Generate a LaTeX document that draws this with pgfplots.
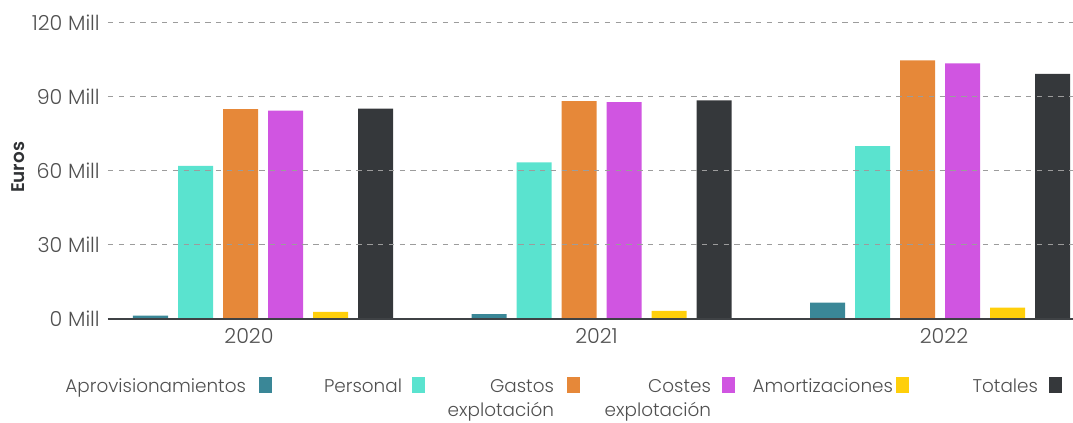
\documentclass[border=0pt]{standalone}
\usepackage{pgfplots}
\pgfplotsset{compat=1.18}
\usepackage{pgfplotstable}
\usepackage{fontspec}
\setmainfont{Poppins Light}[BoldFont={Poppins SemiBold}]
\definecolor{cA}{HTML}{3A8797}
\definecolor{cP}{HTML}{5AE3CF}
\definecolor{cG}{HTML}{E68839}
\definecolor{cC}{HTML}{D055E1}
\definecolor{cM}{HTML}{FFCF0A}
\definecolor{cT}{HTML}{35383B}
\definecolor{txt}{HTML}{505050}
\definecolor{gridc}{HTML}{9C9C9C}
\pgfplotstableread{
x Aprov Personal Gastos Costes Amort Totales
0 1.2 61.9 84.9 84.3 2.8 85.1
1 1.8 63.4 88.2 87.8 3.2 88.5
2 6.5 69.9 104.7 103.5 4.5 99.2
}\datatable
\pgfplotsset{sq legend/.style={legend image code/.code={\path[##1,draw=none] (0pt,0pt) rectangle (9.75pt,12pt);}}}
\newcommand{\lf}{\fontsize{13.8}{17.6}\selectfont}
\newcommand{\tf}{\fontsize{15.5}{18}\selectfont}
\begin{document}
\begin{tikzpicture}
\begin{axis}[
  at={(0,0)}, anchor=south west,
  scale only axis, width=723.75pt, height=222pt,
  ybar=7.5pt, bar width=26.25pt,
  xmin=-0.4579, xmax=2.3929, ymin=0, ymax=120,
  xtick={-0.0414,0.9852,2.0118}, xticklabels={2020,2021,2022},
  ytick={0,30,60,90,120}, yticklabels={0 Mill,30 Mill,60 Mill,90 Mill,120 Mill},
  major tick length=0pt,
  axis on top,
  axis x line*=bottom, axis y line*=left,
  x axis line style={draw=cT!95!white, line width=1.5pt, -},
  y axis line style={draw=none},
  ymajorgrids, grid style={gridc, line width=1.2pt, dash pattern=on 4.1pt off 4pt},
  tick label style={font=\tf, text=txt, inner sep=0pt},
  yticklabel style={anchor=east, xshift=-6pt},
  xticklabel style={anchor=north, yshift=-7.5pt},
  ylabel={\bfseries Euros}, ylabel style={font=\lf, text=cT!90!black, at={(axis description cs:-0.0933,0.511)}, anchor=center, rotate=0},
  legend style={at={(axis description cs:-0.0472,-0.197)}, anchor=north west, draw=none, fill=none, inner sep=0pt, outer sep=0pt, column sep=0pt, font=\lf, text=txt, nodes={inner sep=0pt, anchor=base west}},
  legend cell align=left, legend plot pos=right, legend columns=6,
  clip=false,
]
\addplot[fill=cA, draw=none, sq legend] table[x=x, y=Aprov] {\datatable};
\addlegendentry{\makebox[147.4pt][r]{Aprovisionamientos\rule{9.75pt}{0pt}}}
\addplot[fill=cP, draw=none, sq legend] table[x=x, y=Personal] {\datatable};
\addlegendentry{\makebox[105pt][r]{Personal\rule{7.5pt}{0pt}}}
\addplot[fill=cG, draw=none, sq legend] table[x=x, y=Gastos] {\datatable};
\addlegendentry{\parbox[t]{106.5pt}{\raggedleft Gastos\rule{9.75pt}{0pt}\\explotación\rule{9.75pt}{0pt}}}
\addplot[fill=cC, draw=none, sq legend] table[x=x, y=Costes] {\datatable};
\addlegendentry{\parbox[t]{106.5pt}{\raggedleft Costes\rule{8.25pt}{0pt}\\explotación\rule{8.25pt}{0pt}}}
\addplot[fill=cM, draw=none, sq legend] table[x=x, y=Amort] {\datatable};
\addlegendentry{\makebox[120.75pt][r]{Amortizaciones\rule{2.25pt}{0pt}}}
\addplot[fill=cT, draw=none, sq legend] table[x=x, y=Totales] {\datatable};
\addlegendentry{\makebox[105pt][r]{Totales\rule{8.25pt}{0pt}}}
\end{axis}
\pgfresetboundingbox
\path[use as bounding box] (-81pt,-78.2pt) rectangle (723.75pt,239pt);
\end{tikzpicture}
\end{document}
